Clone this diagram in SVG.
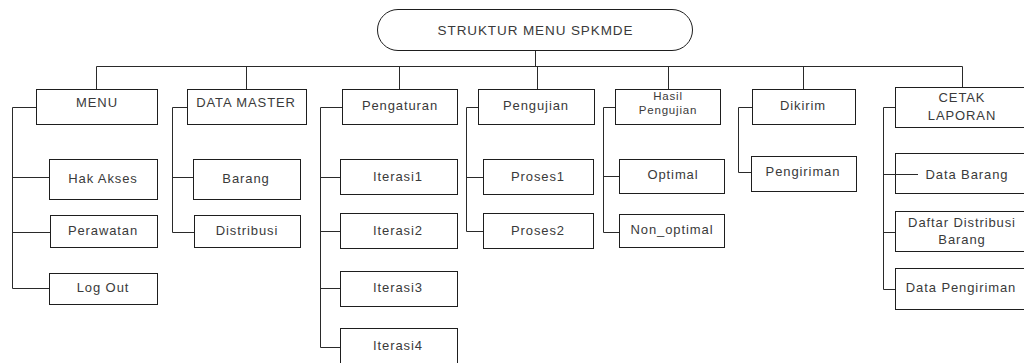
<svg xmlns="http://www.w3.org/2000/svg" width="1024" height="363" viewBox="0 0 1024 363">
  <style>
    .box { fill: #ffffff; stroke: #1e1e1e; stroke-width: 1; }
    .wire { fill: none; stroke: #2a2a2a; stroke-width: 1; }
    .lbl { font-family: "Liberation Sans", Arial, sans-serif; font-size: 13px; fill: #3a3a3a; text-anchor: middle; letter-spacing: 0.9px; }
    .root { font-size: 13.5px; }
    .tight { font-size: 11.5px; letter-spacing: 0.8px; }
  </style>
  <rect width="1024" height="363" fill="#ffffff"/>

  <!-- connectors -->
  <g id="connectors" class="wire">
    <!-- root stem and top bus -->
    <path d="M535.5 51 V66.5 M96.5 66.5 H962.5"/>
    <!-- drops to each menu heading -->
    <path d="M96.5 66.5 V89 M246.5 66.5 V89 M399.5 66.5 V89 M537.5 66.5 V89 M668.5 66.5 V89 M803.5 66.5 V89 M962.5 66.5 V87"/>
    <!-- MENU branch -->
    <path d="M36 107.5 H12.5 V288.5 H49 M12.5 177.5 H49 M12.5 232.5 H50"/>
    <!-- DATA MASTER branch -->
    <path d="M187 107.5 H172.5 V232.5 H194 M172.5 177.5 H193"/>
    <!-- Pengaturan branch -->
    <path d="M342 107.5 H320.5 V347.5 H340 M320.5 177.5 H340 M320.5 231.5 H340 M320.5 288.5 H340"/>
    <!-- Pengujian branch -->
    <path d="M478 107.5 H466.5 V231.5 H483 M466.5 177.5 H483"/>
    <!-- Hasil Pengujian branch -->
    <path d="M615 107.5 H603.5 V232.5 H619 M603.5 176.5 H619"/>
    <!-- Dikirim branch -->
    <path d="M752 107.5 H738.5 V172.5 H751"/>
    <!-- CETAK LAPORAN branch -->
    <path d="M895 107.5 H883.5 V289.5 H895 M883.5 174.5 H918 M883.5 232.5 H895"/>
  </g>

  <!-- root -->
  <g id="root">
    <rect class="box" x="377.5" y="9.5" width="315" height="41" rx="20.5"/>
    <text class="lbl root" x="535.5" y="35">STRUKTUR MENU SPKMDE</text>
  </g>

  <!-- MENU column -->
  <g id="menu">
    <rect class="box" x="36.5" y="89.5" width="121" height="35"/>
    <text class="lbl" x="97" y="107">MENU</text>
  </g>
  <g id="hak-akses">
    <rect class="box" x="49.5" y="159.5" width="108" height="40"/>
    <text class="lbl" x="103" y="183">Hak Akses</text>
  </g>
  <g id="perawatan">
    <rect class="box" x="50.5" y="215.5" width="107" height="32"/>
    <text class="lbl" x="103" y="235">Perawatan</text>
  </g>
  <g id="log-out">
    <rect class="box" x="49.5" y="273.5" width="108" height="31"/>
    <text class="lbl" x="103" y="292">Log Out</text>
  </g>

  <!-- DATA MASTER column -->
  <g id="data-master">
    <rect class="box" x="187.5" y="89.5" width="119" height="35"/>
    <text class="lbl" x="246" y="107">DATA MASTER</text>
  </g>
  <g id="barang">
    <rect class="box" x="193.5" y="159.5" width="107" height="40"/>
    <text class="lbl" x="246" y="183">Barang</text>
  </g>
  <g id="distribusi">
    <rect class="box" x="194.5" y="215.5" width="106" height="32"/>
    <text class="lbl" x="247" y="235">Distribusi</text>
  </g>

  <!-- Pengaturan column -->
  <g id="pengaturan">
    <rect class="box" x="342.5" y="89.5" width="115" height="35"/>
    <text class="lbl" x="400" y="110">Pengaturan</text>
  </g>
  <g id="iterasi1">
    <rect class="box" x="340.5" y="159.5" width="117" height="35"/>
    <text class="lbl" x="398" y="181">Iterasi1</text>
  </g>
  <g id="iterasi2">
    <rect class="box" x="340.5" y="213.5" width="117" height="35"/>
    <text class="lbl" x="398" y="235">Iterasi2</text>
  </g>
  <g id="iterasi3">
    <rect class="box" x="340.5" y="271.5" width="117" height="35"/>
    <text class="lbl" x="398" y="292">Iterasi3</text>
  </g>
  <g id="iterasi4">
    <rect class="box" x="340.5" y="328.5" width="117" height="40"/>
    <text class="lbl" x="398" y="350">Iterasi4</text>
  </g>

  <!-- Pengujian column -->
  <g id="pengujian">
    <rect class="box" x="478.5" y="89.5" width="116" height="35"/>
    <text class="lbl" x="536" y="110">Pengujian</text>
  </g>
  <g id="proses1">
    <rect class="box" x="483.5" y="159.5" width="110" height="35"/>
    <text class="lbl" x="538" y="181">Proses1</text>
  </g>
  <g id="proses2">
    <rect class="box" x="483.5" y="213.5" width="110" height="35"/>
    <text class="lbl" x="538" y="235">Proses2</text>
  </g>

  <!-- Hasil Pengujian column -->
  <g id="hasil-pengujian">
    <rect class="box" x="615.5" y="89.5" width="105" height="35"/>
    <text class="lbl tight" x="668" y="100">Hasil</text>
    <text class="lbl tight" x="668" y="114">Pengujian</text>
  </g>
  <g id="optimal">
    <rect class="box" x="619.5" y="159.5" width="105" height="34"/>
    <text class="lbl" x="673" y="179">Optimal</text>
  </g>
  <g id="non-optimal">
    <rect class="box" x="619.5" y="214.5" width="105" height="33"/>
    <text class="lbl" x="672" y="234">Non_optimal</text>
  </g>

  <!-- Dikirim column -->
  <g id="dikirim">
    <rect class="box" x="752.5" y="89.5" width="103" height="35"/>
    <text class="lbl" x="803" y="110">Dikirim</text>
  </g>
  <g id="pengiriman">
    <rect class="box" x="751.5" y="156.5" width="105" height="35"/>
    <text class="lbl" x="803" y="176">Pengiriman</text>
  </g>

  <!-- CETAK LAPORAN column -->
  <g id="cetak-laporan">
    <rect class="box" x="895.5" y="87.5" width="135" height="40"/>
    <text class="lbl" x="962" y="102">CETAK</text>
    <text class="lbl" x="962" y="120">LAPORAN</text>
  </g>
  <g id="data-barang">
    <rect class="box" x="895.5" y="153.5" width="135" height="40"/>
    <line class="wire" x1="895" y1="174.5" x2="918" y2="174.5"/>
    <text class="lbl" x="967" y="179">Data Barang</text>
  </g>
  <g id="daftar-distribusi-barang">
    <rect class="box" x="895.5" y="211.5" width="135" height="40"/>
    <text class="lbl" x="962" y="227">Daftar Distribusi</text>
    <text class="lbl" x="962" y="244">Barang</text>
  </g>
  <g id="data-pengiriman">
    <rect class="box" x="895.5" y="268.5" width="135" height="41"/>
    <text class="lbl" x="961" y="292">Data Pengiriman</text>
  </g>
</svg>
